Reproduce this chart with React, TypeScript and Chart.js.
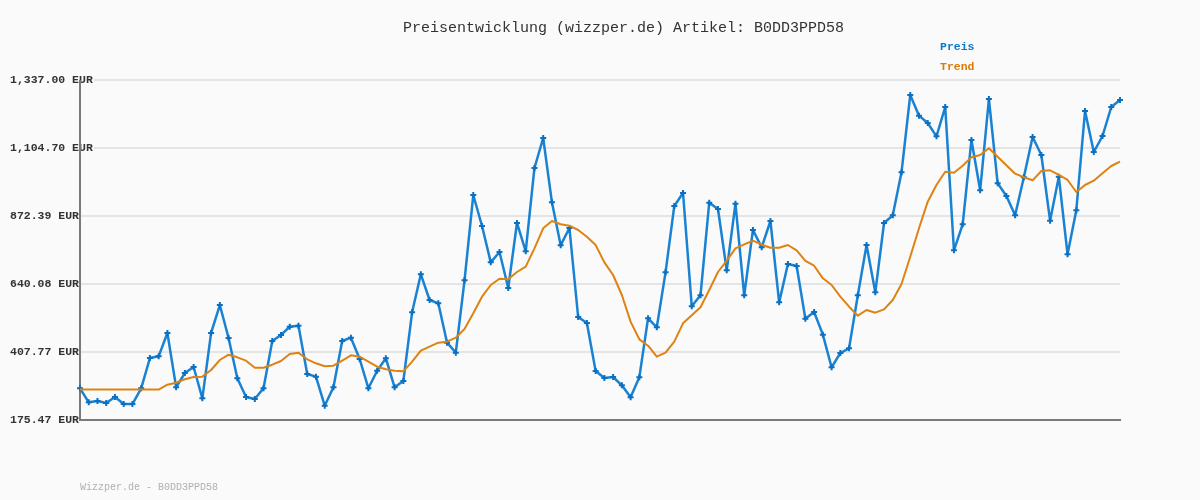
import React, { useEffect, useRef } from "react";
import { Chart, registerables } from "chart.js";

Chart.register(...registerables);

const titleText = "Preisentwicklung (wizzper.de) Artikel: B0DD3PPD58";
const footerText = "Wizzper.de - B0DD3PPD58";
const seriesNames = ["Preis", "Trend"];

const yTicks = [175.47, 407.77, 640.08, 872.39, 1104.7, 1337.0];

const preis = [
  283.8, 235.9, 240.4, 233.5, 254.0, 230.1, 230.0, 283.8, 387.3, 393.0,
  472.7, 287.2, 336.0, 356.5, 249.6, 472.7, 568.3, 455.6, 318.0, 254.0,
  247.2, 283.8, 445.4, 465.9, 494.3, 497.7, 332.6, 323.5, 224.3, 287.2,
  445.4, 456.7, 383.9, 283.7, 343.9, 386.2, 287.1, 308.7, 543.4, 673.1,
  585.4, 574.1, 439.6, 405.5, 652.6, 944.1, 838.2, 714.1, 749.4, 626.4,
  848.5, 751.7, 1036.4, 1138.9, 919.1, 772.2, 831.4, 527.4, 506.9, 342.9,
  319.0, 322.4, 293.9, 252.9, 321.3, 522.9, 492.2, 679.9, 906.6, 951.0,
  563.8, 601.4, 917.9, 896.3, 686.9, 914.5, 601.4, 824.6, 765.4, 855.3,
  577.4, 708.4, 701.6, 521.6, 544.4, 467.0, 355.5, 404.4, 420.4, 601.4,
  773.3, 611.6, 848.5, 874.7, 1021.7, 1285.8, 1215.2, 1190.1, 1144.6, 1244.8,
  755.2, 844.0, 1132.0, 960.1, 1272.1, 984.0, 940.7, 874.7, 1004.6, 1142.3,
  1080.8, 856.4, 1006.7, 741.5, 891.9, 1231.1, 1091.1, 1145.7, 1244.8, 1268.7,
];

const trend = [
  279.5, 279.5, 279.5, 279.5, 279.5, 279.5, 279.5, 279.5, 279.5, 279.5,
  296.0, 303.0, 314.5, 322.4, 323.5, 346.3, 380.4, 398.6, 389.6, 378.1,
  354.1, 354.1, 364.4, 377.0, 400.9, 405.4, 382.8, 369.2, 358.9, 361.0,
  378.5, 396.4, 391.7, 374.8, 357.6, 348.7, 343.9, 341.8, 374.8, 412.2,
  425.9, 439.6, 443.0, 456.7, 486.3, 540.0, 596.7, 636.7, 658.2, 656.1,
  681.1, 699.2, 762.0, 830.4, 855.3, 844.0, 839.3, 824.6, 801.7, 773.3,
  714.1, 670.8, 602.5, 511.4, 451.1, 429.3, 391.7, 405.5, 443.0, 505.8,
  533.1, 560.5, 619.6, 681.1, 719.7, 762.0, 775.7, 788.0, 774.4, 764.1,
  764.1, 773.3, 755.2, 718.7, 702.6, 659.5, 636.7, 596.7, 562.5, 531.8,
  551.3, 542.1, 553.6, 585.4, 640.1, 733.4, 830.4, 921.3, 978.3, 1023.8,
  1020.4, 1044.3, 1072.9, 1080.8, 1103.6, 1075.1, 1045.6, 1016.9, 1004.6, 994.3,
  1026.1, 1028.5, 1012.5, 995.4, 954.4, 978.3, 993.0, 1018.2, 1043.2, 1057.9,
];

const labels = preis.map((_, i) => String(i + 1));

const BLUE = "#1a82d2";
const BLUE_PT = "#0b70c2";
const ORANGE = "#de8312";
const AXIS = "#7a7a7a";

const formatTick = (v: number) =>
  v.toLocaleString("en-US", { minimumFractionDigits: 2, maximumFractionDigits: 2 }) + " EUR";

const decorPlugin = {
  id: "decor",
  beforeDraw(chart: any) {
    const ctx = chart.ctx;
    ctx.save();
    ctx.fillStyle = "#fafafa";
    ctx.fillRect(0, 0, chart.width, chart.height);
    ctx.restore();
  },
  beforeDatasetsDraw(chart: any) {
    const ctx = chart.ctx;
    const y = chart.scales.y;
    const area = chart.chartArea;
    ctx.save();
    // y tick labels over the grid lines, under the axis line
    yTicks.forEach((v) => {
      const py = y.getPixelForValue(v);
      ctx.font = "bold 11.5px 'Liberation Mono', monospace";
      const w = ctx.measureText(formatTick(v)).width;
      ctx.fillStyle = "#fafafa";
      ctx.fillRect(10, py - 2, w + 1, 4);
      ctx.fillStyle = "#333333";
      ctx.textAlign = "left";
      ctx.textBaseline = "middle";
      ctx.fillText(formatTick(v), 10, py);
    });
    ctx.strokeStyle = AXIS;
    ctx.lineWidth = 2;
    ctx.beginPath();
    ctx.moveTo(area.left, area.top);
    ctx.lineTo(area.left, area.bottom + 1);
    ctx.stroke();
    ctx.restore();
  },
  afterDraw(chart: any) {
    const ctx = chart.ctx;
    ctx.save();
    ctx.textBaseline = "middle";
    ctx.fillStyle = "#333333";
    ctx.font = "15px 'Liberation Mono', monospace";
    ctx.textAlign = "center";
    ctx.fillText(titleText, 623.5, 28);

    ctx.textAlign = "left";
    ctx.font = "bold 11.5px 'Liberation Mono', monospace";
    ctx.fillStyle = "#0b78c8";
    ctx.fillText(seriesNames[0], 940, 47);
    ctx.fillStyle = "#db7b06";
    ctx.fillText(seriesNames[1], 940, 67);

    ctx.font = "10px 'Liberation Mono', monospace";
    ctx.fillStyle = "#b0b0b0";
    ctx.fillText(footerText, 80, 487);
    ctx.restore();
  },
};

export default function App() {
  const ref = useRef<HTMLCanvasElement | null>(null);

  useEffect(() => {
    if (!ref.current) return;
    const chart = new Chart(ref.current, {
      type: "line",
      data: {
        labels,
        datasets: [
          {
            label: seriesNames[1],
            data: trend,
            borderColor: ORANGE,
            borderWidth: 2,
            borderJoinStyle: "round",
            pointRadius: 0,
            tension: 0,
            fill: false,
          },
          {
            label: seriesNames[0],
            data: preis,
            borderColor: BLUE,
            borderWidth: 2.5,
            borderJoinStyle: "round",
            pointStyle: "cross",
            pointRadius: 3,
            pointBorderWidth: 2,
            pointBorderColor: BLUE_PT,
            pointBackgroundColor: BLUE_PT,
            tension: 0,
            fill: false,
          },
        ],
      },
      options: {
        responsive: false,
        animation: false,
        devicePixelRatio: 1,
        layout: { padding: { left: 10, right: 80, top: 80, bottom: 80 } },
        plugins: {
          legend: { display: false },
          title: { display: false },
          tooltip: { enabled: false },
        },
        scales: {
          x: {
            type: "category",
            offset: false,
            grid: { display: false, drawTicks: false },
            ticks: { display: false },
            border: { display: true, color: AXIS, width: 2 },
            afterFit(scale: any) {
              scale.height = 0;
            },
          },
          y: {
            min: yTicks[0],
            max: yTicks[yTicks.length - 1],
            afterBuildTicks(scale: any) {
              scale.ticks = yTicks.map((v) => ({ value: v }));
            },
            afterFit(scale: any) {
              scale.width = 70;
            },
            grid: {
              color: "#e4e4e4",
              lineWidth: 2,
              drawTicks: false,
            },
            border: { display: true, color: AXIS, width: 2 },
            ticks: { display: false },
          },
        },
      },
      plugins: [decorPlugin],
    });
    return () => chart.destroy();
  }, []);

  return (
    <div style={{ position: "absolute", left: 0, top: 0, width: 1200, height: 500 }}>
      <canvas ref={ref} width={1200} height={500} style={{ width: 1200, height: 500 }} />
    </div>
  );
}
